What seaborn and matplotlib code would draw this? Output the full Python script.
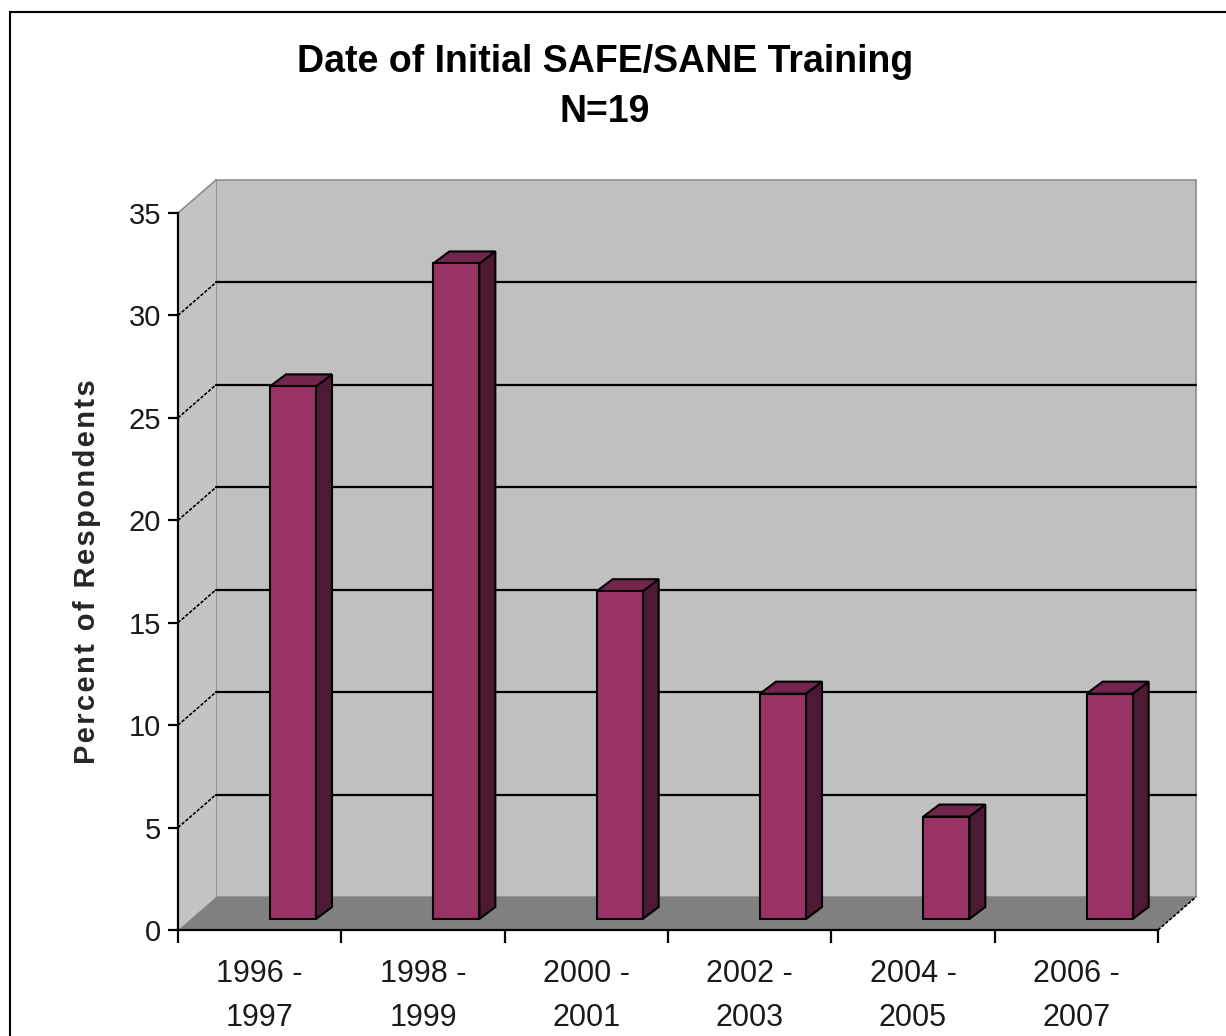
import numpy as np
import pandas as pd
import seaborn as sns
import matplotlib.pyplot as plt
from matplotlib.patches import Polygon, Rectangle

# data
periods = ["1996 -\n1997", "1998 -\n1999", "2000 -\n2001", "2002 -\n2003", "2004 -\n2005", "2006 -\n2007"]
percent = [26, 32, 16, 11, 5, 11]
y_ticks = [0, 5, 10, 15, 20, 25, 30, 35]

df = pd.DataFrame({"period": periods, "percent": percent})

sns.set_theme(style="white")
plt.rcParams["font.family"] = ["Liberation Sans", "DejaVu Sans"]

W, H = 1226, 1036
fig = plt.figure(figsize=(W / 100, H / 100), dpi=100)
fig.patch.set_facecolor("white")

# front plane of the 3d box in pixels
x0, x1, ytop, ybot = 178, 1158, 213, 930
ax = fig.add_axes([x0 / W, (H - ybot) / H, (x1 - x0) / W, (ybot - ytop) / H])
ax.set_facecolor("none")
ax.set_xlim(-0.5, 5.5)
ax.set_ylim(0, 35)

px_x = (x1 - x0) / 6.0
px_y = (ybot - ytop) / 35.0
dx, dy = 38 / px_x, 33 / px_y          # depth of the box
bdx, bdy = 16 / px_x, 12 / px_y        # depth of each column
lift = 11 / px_y                        # columns stand a bit back on the floor
shift = (293 - (x0 + px_x / 2)) / px_x  # columns sit right of the category centre
bw = 46 / px_x

front = "#993366"
side = "#4d1933"
top = "#73264d"

# walls and floor
L, R = -0.5, 5.5
ax.add_patch(Polygon([(L + dx, dy), (R + dx, dy), (R + dx, 35 + dy), (L + dx, 35 + dy)],
                     closed=True, facecolor="#c0c0c0", edgecolor="#8c8c8c", lw=1.2, clip_on=False, zorder=0.5))
ax.add_patch(Polygon([(L, 0), (L, 35), (L + dx, 35 + dy), (L + dx, dy)],
                     closed=True, facecolor="#c4c4c4", edgecolor="none", clip_on=False, zorder=0.5))
ax.add_patch(Polygon([(L, 0), (R, 0), (R + dx, dy), (L + dx, dy)],
                     closed=True, facecolor="#808080", edgecolor="none", clip_on=False, zorder=0.6))
ax.plot([L, L + dx], [35, 35 + dy], color="#8c8c8c", lw=1.2, clip_on=False, zorder=0.7)
ax.plot([R, R + dx], [0, dy], color="black", lw=1.2, ls=(0, (2, 1)), clip_on=False, zorder=0.7)
for v in y_ticks[1:-1]:
    ax.plot([L + dx, R + dx], [v + dy, v + dy], color="black", lw=1.6, clip_on=False, zorder=0.7)
    ax.plot([L, L + dx], [v, v + dy], color="black", lw=1.2, ls=(0, (2, 1)), clip_on=False, zorder=0.7)

sns.barplot(data=df, x="period", y="percent", color=front, width=bw, saturation=1,
            edgecolor="black", linewidth=1.5, ax=ax, zorder=3)
ax.set_xlim(-0.5, 5.5)
ax.set_ylim(0, 35)

for p in ax.patches:
    if p.get_zorder() != 3:
        continue
    bx = p.get_x() + shift
    h = p.get_height()
    p.set_x(bx)
    p.set_y(lift)
    p.set_clip_on(False)
    w = p.get_width()
    ax.add_patch(Polygon([(bx + w, lift), (bx + w + bdx, lift + bdy), (bx + w + bdx, lift + h + bdy), (bx + w, lift + h)],
                         closed=True, facecolor=side, edgecolor="black", lw=1.5, clip_on=False, zorder=2.9))
    ax.add_patch(Polygon([(bx, lift + h), (bx + bdx, lift + h + bdy), (bx + w + bdx, lift + h + bdy), (bx + w, lift + h)],
                         closed=True, facecolor=top, edgecolor="black", lw=1.5, clip_on=False, zorder=2.9))

# axes
sns.despine(ax=ax, top=True, right=True)
for s in ["left", "bottom"]:
    ax.spines[s].set_color("black")
    ax.spines[s].set_linewidth(1.6)
ax.set_yticks(y_ticks)
ax.set_yticklabels([str(v) for v in y_ticks], fontsize=21, color="#1a1a1a")
ax.set_xticks(range(6))
ax.set_xticklabels(periods, fontsize=22, color="#1a1a1a", linespacing=1.62)
ax.set_xticks(np.arange(-0.5, 6.0, 1.0), minor=True)
ax.tick_params(axis="y", direction="out", length=7, width=1.6, color="black", pad=5, left=True)
ax.tick_params(axis="x", which="major", length=0, pad=21)
ax.tick_params(axis="x", which="minor", direction="out", length=9, width=1.6, color="black", bottom=True)
ax.set_xlabel("")
ylab = "\u200a".join("Percent of Respondents")
ax.set_ylabel(ylab, fontsize=21, fontweight="bold", labelpad=20)

fig.text(605 / W, 1 - 62 / H, "Date of Initial SAFE/SANE Training", ha="center", va="center",
         fontsize=27, fontweight="bold", color="black")
fig.text(605 / W, 1 - 112 / H, "N=19", ha="center", va="center",
         fontsize=27, fontweight="bold", color="black")

# outer chart border
fig.add_artist(Rectangle((10 / W, -0.05), (W - 8) / W, 1 - 12 / H + 0.05, transform=fig.transFigure,
                         facecolor="none", edgecolor="black", lw=1.5))

fig.savefig("out.png", dpi=100)
